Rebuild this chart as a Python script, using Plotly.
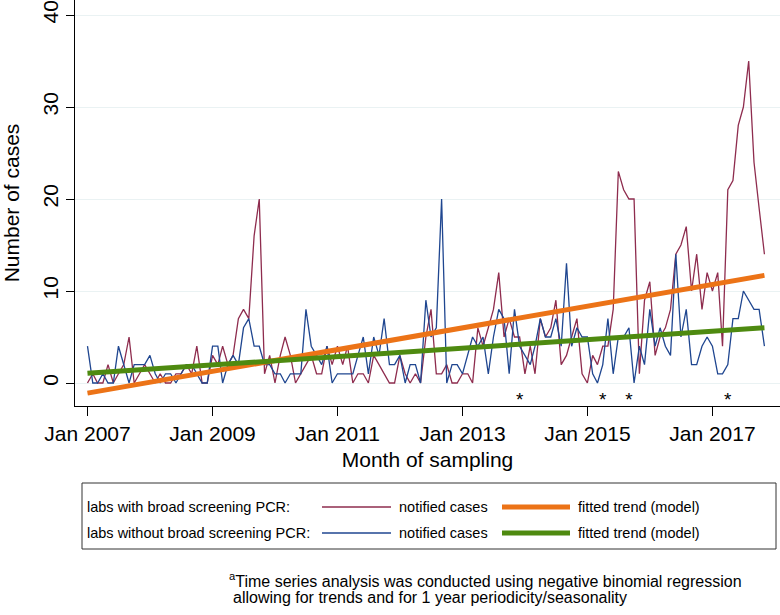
import pandas as pd
import plotly.graph_objects as go

# monthly notified cases, Jan 2007 - Nov 2017
start_month = "2007-01-01"
cases_with_pcr = [
    0, 1, 0, 0, 2, 0, 1, 2, 5, 0,
    1, 2, 1, 0, 1, 0, 0, 1, 1, 2, 1,
    4, 0, 0, 3, 2, 4, 2, 3, 7, 8, 7, 16, 20,
    1, 3, 0, 3, 5, 3, 0, 1, 2,
    3, 1, 1, 4, 2, 4, 2, 4, 0, 1, 1, 0, 3, 2, 1, 0, 0, 3, 1, 0, 1, 0,
    5, 8, 1, 1, 2, 0, 0, 1, 1, 0, 6, 4, 6, 8, 12, 5, 7, 5, 5, 1,
    4, 1, 7, 5, 6, 9, 2, 3, 5, 7, 1, 0,
    3, 2, 4, 4, 8, 23, 21, 20, 20, 1, 9, 11, 3, 5, 6, 8, 14, 15, 17, 10,
    14, 8, 12, 10, 12, 4, 21, 22, 28, 30, 35, 24, 19, 14,
]
cases_without_pcr = [
    4, 0, 0, 1, 0, 0, 4, 2, 0, 2, 2, 2, 3, 1, 0, 1, 1, 0, 1, 2, 2,
    1, 0, 0, 4, 4, 0, 2, 3, 2, 6, 7, 4, 4, 2, 2, 1, 1, 0, 1, 1, 1, 8,
    4, 3, 2, 4, 0, 1, 1, 1, 1, 3, 5, 1, 5, 3, 7, 2, 2, 3, 0, 2, 2, 0,
    9, 5, 6, 20, 0, 2, 2, 1, 3, 5, 4, 5, 1, 5, 8, 7, 1, 8, 4, 3,
    2, 4, 7, 5, 5, 7, 4, 13, 4, 6, 5, 5,
    1, 0, 2, 7, 1, 5, 5, 6, 0, 4, 2, 8, 4, 6, 4, 3, 14, 5, 8, 2,
    2, 4, 5, 4, 1, 1, 2, 7, 7, 10, 9, 8, 8, 4,
]
# fitted trend (model), value at first and last month
trend_with_pcr = [-1.1, 11.7]
trend_without_pcr = [1.05, 6.0]
# months marked with an asterisk
star_months = ["2013-12-01", "2015-04-01", "2015-09-01", "2017-04-01"]

months = pd.date_range(start_month, periods=len(cases_with_pcr), freq="MS")
trend_x = [months[0], months[-1]]

RED = "#8e2c4e"
BLUE = "#1f4690"
ORANGE = "#ec7317"
GREEN = "#4e8a10"
FONT = "Liberation Sans, Arial, sans-serif"

fig = go.Figure()
fig.add_trace(go.Scatter(x=months, y=cases_with_pcr, mode="lines",
                         line=dict(color=RED, width=1.3)))
fig.add_trace(go.Scatter(x=months, y=cases_without_pcr, mode="lines",
                         line=dict(color=BLUE, width=1.3)))
fig.add_trace(go.Scatter(x=trend_x, y=trend_with_pcr, mode="lines",
                         line=dict(color=ORANGE, width=5)))
fig.add_trace(go.Scatter(x=trend_x, y=trend_without_pcr, mode="lines",
                         line=dict(color=GREEN, width=5)))
fig.add_trace(go.Scatter(x=pd.to_datetime(star_months), y=[-2.0] * len(star_months),
                         mode="text", text=["*"] * len(star_months),
                         textfont=dict(size=19, color="black", family=FONT)))

# plot area in pixels: x 75..780, y 0..406
W, H = 780, 615
L, T, B = 75, 0, 406


def px(x):
    return (x - L) / (W - L)


def py(y):
    return (B - y) / (B - T)


shapes = [dict(type="rect", xref="paper", yref="paper",
               x0=px(82), x1=px(776), y0=py(483), y1=py(549),
               line=dict(color="#333333", width=1))]
annotations = []
rows = [
    ("labs with broad screening PCR:", RED, ORANGE, 507),
    ("labs without broad screening PCR:", BLUE, GREEN, 533),
]
for label, thin, thick, yy in rows:
    shapes.append(dict(type="line", xref="paper", yref="paper",
                       x0=px(322), x1=px(391), y0=py(yy), y1=py(yy),
                       line=dict(color=thin, width=1.3)))
    shapes.append(dict(type="line", xref="paper", yref="paper",
                       x0=px(502), x1=px(570), y0=py(yy), y1=py(yy),
                       line=dict(color=thick, width=5)))
    for text, xx in [(label, 85), ("notified cases", 397), ("fitted trend (model)", 576)]:
        annotations.append(dict(text=text, xref="paper", yref="paper",
                                x=px(xx), y=py(yy), xanchor="left", yanchor="middle",
                                showarrow=False, font=dict(size=14.5, family=FONT, color="black")))

annotations.append(dict(text="<sup>a</sup>Time series analysis was conducted using negative binomial regression",
                        xref="paper", yref="paper", x=px(227), y=py(580),
                        xanchor="left", yanchor="middle", showarrow=False,
                        font=dict(size=16, family=FONT, color="black")))
annotations.append(dict(text="allowing for trends and for 1 year periodicity/seasonality",
                        xref="paper", yref="paper", x=px(231), y=py(597),
                        xanchor="left", yanchor="middle", showarrow=False,
                        font=dict(size=16, family=FONT, color="black")))

fig.update_layout(
    width=W, height=H, autosize=False,
    margin=dict(l=L, r=0, t=T, b=H - B),
    plot_bgcolor="white", paper_bgcolor="white",
    showlegend=False,
    font=dict(family=FONT, color="black"),
    shapes=shapes,
    annotations=annotations,
    xaxis=dict(
        type="date",
        range=["2006-10-20", "2018-01-31"],
        tick0="2007-01-01", dtick="M24", tickformat="%b %Y",
        ticks="outside", ticklen=9, tickcolor="black",
        showline=True, linecolor="black", linewidth=1,
        showgrid=False, zeroline=False,
        tickfont=dict(size=21),
        title=dict(text="Month of sampling", font=dict(size=21), standoff=8),
    ),
    yaxis=dict(
        range=[-2.5, 41.63],
        tickvals=[0, 10, 20, 30, 40],
        tickangle=-90,
        ticks="outside", ticklen=8, tickcolor="black",
        showline=True, linecolor="black", linewidth=1,
        showgrid=True, gridcolor="#eaf2f3", gridwidth=1,
        zeroline=False,
        tickfont=dict(size=21),
        title=dict(text="Number of cases", font=dict(size=21), standoff=14),
    ),
)

# drop the default page margin so the figure sits at the top-left corner
fig.write_html("out.html", config={"displayModeBar": False},
               post_script="document.body.style.margin='0';")
